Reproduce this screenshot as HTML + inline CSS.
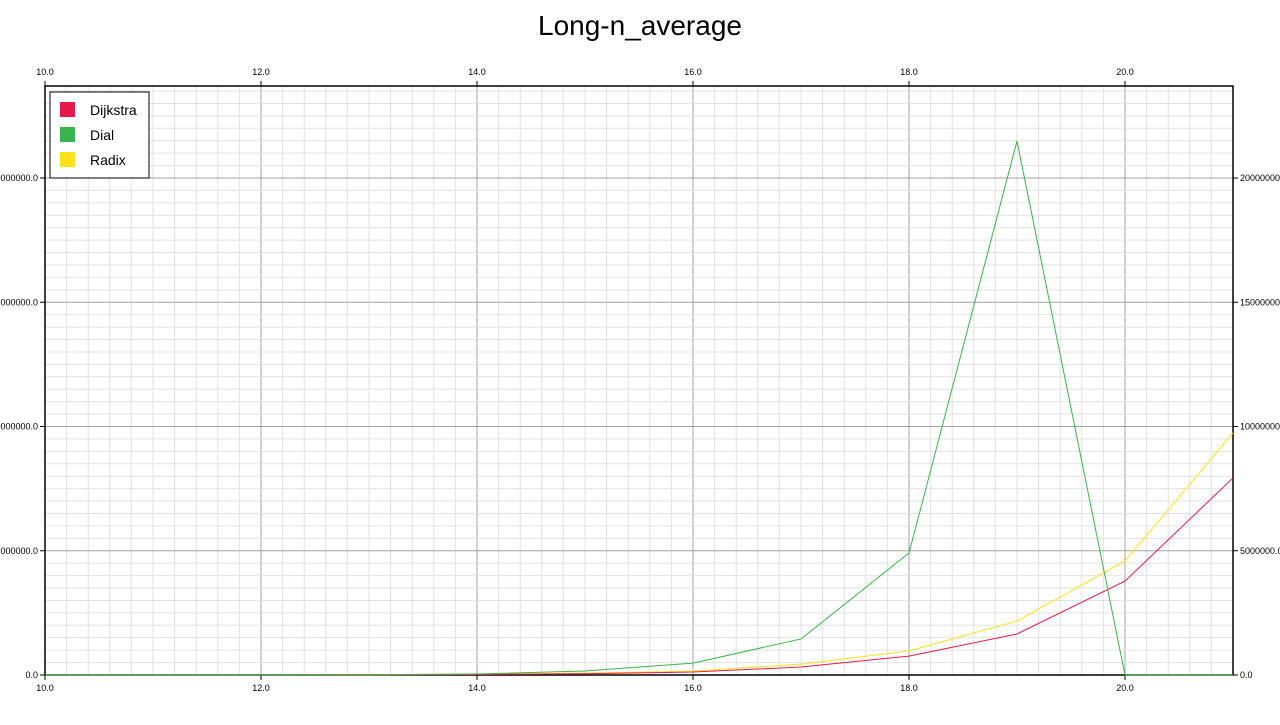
<!DOCTYPE html>
<html><head><meta charset="utf-8"><style>
body{margin:0;background:#fff;font-family:"Liberation Sans",sans-serif}
svg text{font-family:"Liberation Sans",sans-serif}
</style></head><body>
<svg id="chart" width="1280" height="720" xmlns="http://www.w3.org/2000/svg">
<text x="640" y="35" text-anchor="middle" font-size="28">Long-n_average</text>
<g id="grid"></g><g id="axes"></g><g id="series"></g>
<g>
<rect x="50" y="92" width="99" height="86" fill="#fff" stroke="#000" stroke-width="1"/>
<rect x="60" y="102" width="15" height="15" fill="#e8194a"/>
<text x="90" y="115" font-size="14">Dijkstra</text>
<rect x="60" y="127" width="15" height="15" fill="#3cb34a"/>
<text x="90" y="140" font-size="14">Dial</text>
<rect x="60" y="152" width="15" height="15" fill="#ffe119"/>
<text x="90" y="165" font-size="14">Radix</text>
</g>
</svg>
<script>
const categories=[10,11,12,13,14,15,16,17,18,19,20,21];
const dijkstra=[0,0,0,0.005,0.02,0.05,0.12,0.32,0.76,1.65,3.78,7.93];
const dial=[0,0,0,0.01,0.04,0.16,0.48,1.45,4.91,21.49,0,0];
const radix=[0,0,0,0.005,0.03,0.07,0.16,0.44,0.97,2.17,4.59,9.74];
const xTicks=[10,12,14,16,18,20];
const yTicks=[0,5,10,15,20];
const L=45,R=1233,T=86,B=675;
const sx=v=>L+(v-10)*(R-L)/11;
const sy=v=>B-v*124.25/5;
const NS='http://www.w3.org/2000/svg';
function mk(p,t,a){const e=document.createElementNS(NS,t);for(const k in a)e.setAttribute(k,a[k]);p.appendChild(e);return e;}
const grid=document.getElementById('grid'),axes=document.getElementById('axes'),ser=document.getElementById('series');
for(let i=0;i<=55;i++){const v=10+i*0.2;const x=sx(v);const major=i%10===0;
const l=mk(grid,'line',{x1:x,x2:x,y1:T,y2:B,stroke:major?'#a0a0a0':'#e2e2e2','stroke-width':1});

}
for(let i=0;sy(i*0.5)>=T;i++){const v=i*0.5;const y=sy(v);const major=i%10===0;
const l=mk(grid,'line',{x1:L,x2:R,y1:y,y2:y,stroke:major?'#a0a0a0':'#e2e2e2','stroke-width':1});

}
mk(axes,'rect',{x:L,y:T,width:R-L,height:B-T,fill:'none',stroke:'#000','stroke-width':1.5});
xTicks.forEach(v=>{const x=sx(v);
[[B,B+5,B+16],[T,T-5,T-11]].forEach(([a,b,ty])=>{
mk(axes,'line',{x1:x,x2:x,y1:a,y2:b,stroke:'#000'});
const t=mk(axes,'text',{x:x,y:ty,'text-anchor':'middle','font-size':9});t.textContent=v.toFixed(1);

});});
yTicks.forEach(v=>{const y=sy(v);
mk(axes,'line',{x1:L-5,x2:L,y1:y,y2:y,stroke:'#000'});
mk(axes,'line',{x1:R,x2:R+5,y1:y,y2:y,stroke:'#000'});
const s=(v*1000000).toFixed(1);
const t1=mk(axes,'text',{x:L-7,y:y+3,'text-anchor':'end','font-size':9});t1.textContent=s;


const t2=mk(axes,'text',{x:R+7,y:y+3,'font-size':9});t2.textContent=s;

});
[[radix,'#ffe119','radix-line'],[dijkstra,'#e8194a','dijkstra-line'],[dial,'#3cb34a','dial-line']].forEach(([d,c,n])=>{
const p=mk(ser,'polyline',{points:d.map((v,i)=>sx(categories[i])+','+sy(v)).join(' '),fill:'none',stroke:c,'stroke-width':1});

});
</script>
</body></html>
